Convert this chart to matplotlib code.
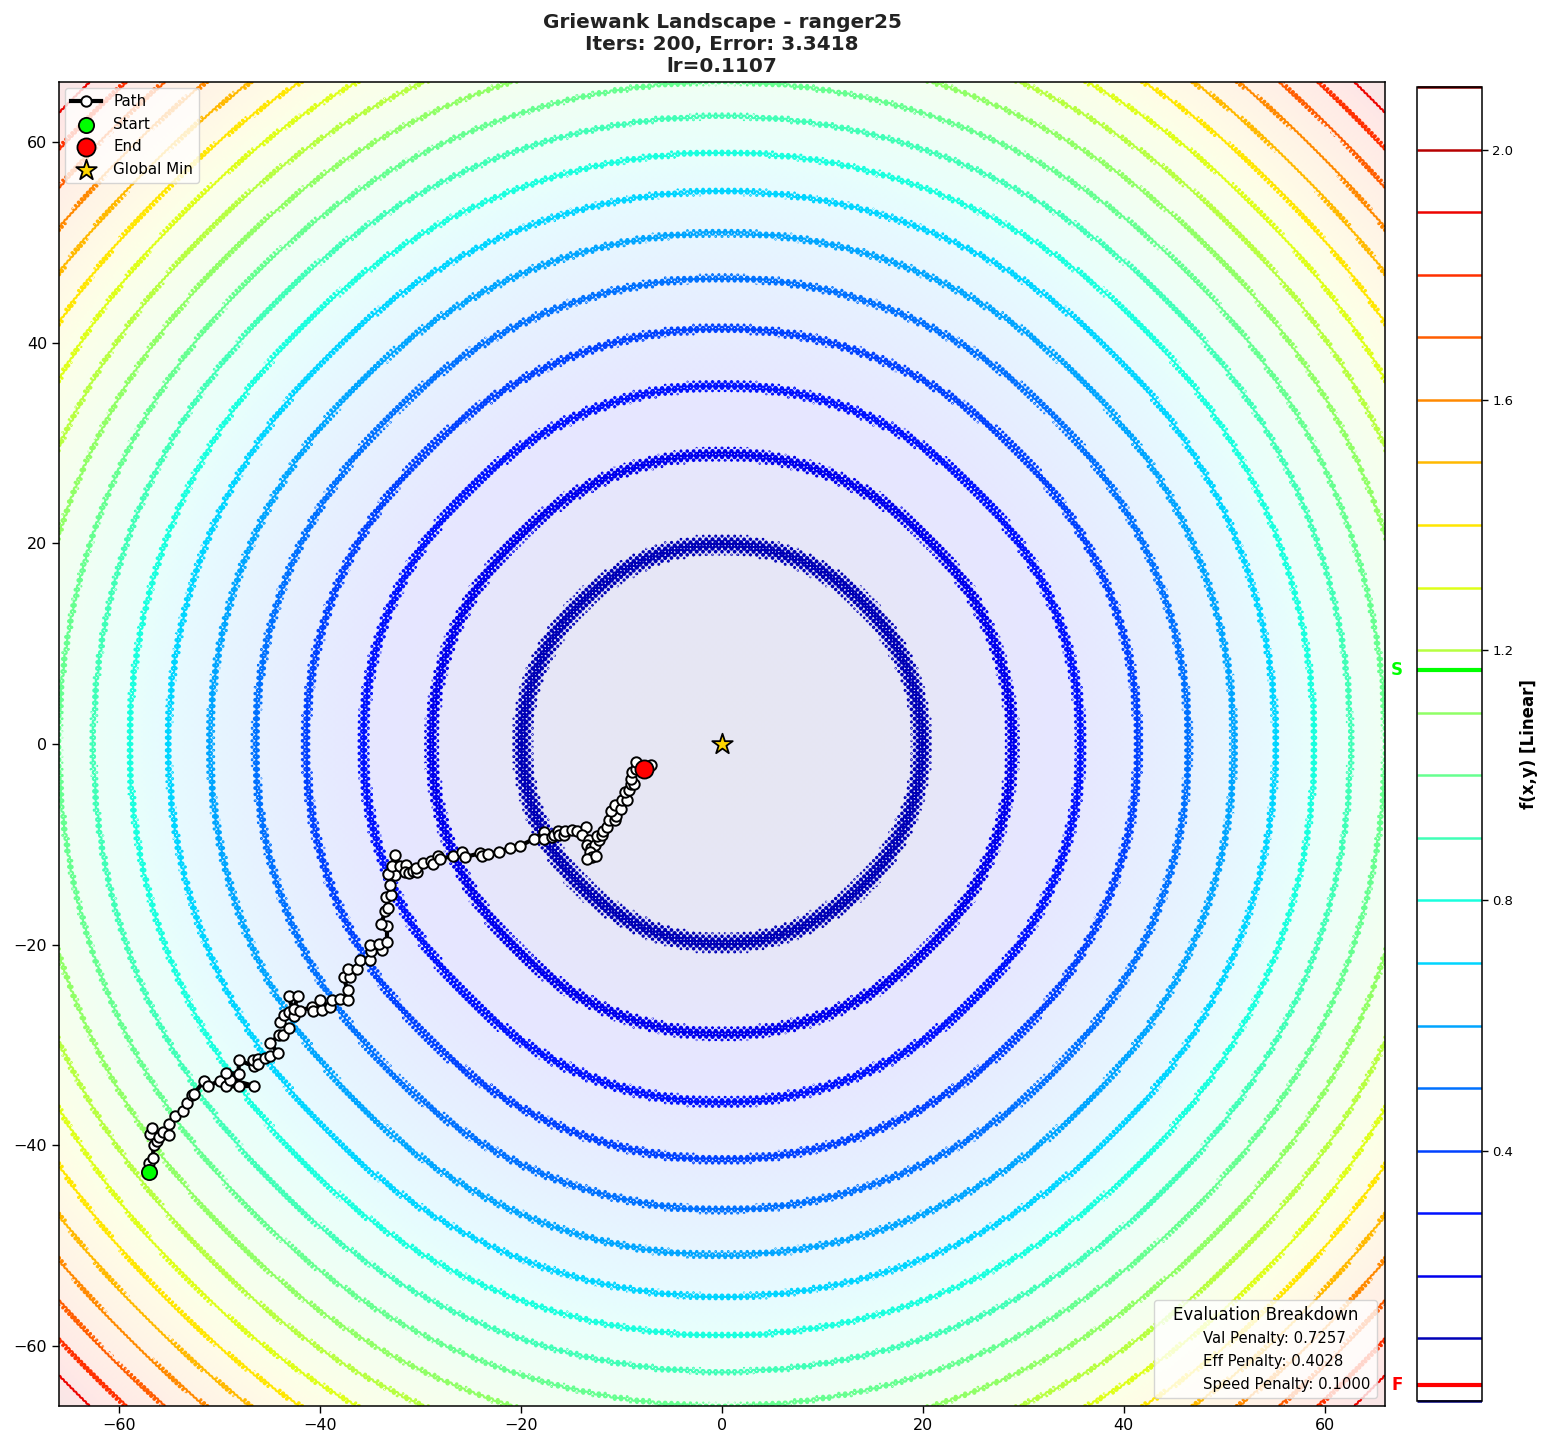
import matplotlib
matplotlib.use('Agg')
import matplotlib.pyplot as plt
import numpy as np
from matplotlib.lines import Line2D

# Path (x, y in data units), in iteration order
path_x = [-57.0, -57.08, -56.65, -56.58, -56.25, -56.92, -56.78, -56.09, -55.69, -55.09, -55.09, -54.49,
          -53.69, -53.26, -52.76, -52.60, -51.53, -51.20, -50.01, -49.38, -48.11, -46.62, -48.94, -49.34,
          -48.11, -48.11, -46.62, -46.68, -46.22, -46.22, -45.46, -44.96, -44.19, -44.96, -44.13, -43.69,
          -43.13, -44.03, -43.56, -43.13, -42.56, -43.13, -42.20, -42.63, -41.97, -40.82, -40.72, -39.79,
          -40.06, -39.06, -38.83, -38.06, -37.27, -37.27, -37.66, -37.07, -37.27, -36.34, -36.07, -35.07,
          -34.94, -35.07, -33.84, -34.18, -33.35, -33.35, -33.94, -33.51, -33.25, -33.41, -32.95, -33.08,
          -32.52, -33.25, -32.85, -32.58, -32.02, -31.42, -31.58, -31.19, -30.75, -30.36, -30.42, -29.79,
          -28.96, -28.76, -28.26, -28.03, -26.81, -25.88, -25.61, -24.05, -23.88, -23.32, -22.22, -21.13,
          -20.06, -18.74, -17.67, -17.74, -16.91, -16.74, -16.31, -16.24, -15.74, -15.58, -14.91, -14.42,
          -13.52, -13.92, -13.25, -13.48, -13.09, -12.69, -13.15, -12.92, -13.48, -12.59, -12.26, -12.42,
          -11.92, -11.82, -11.43, -11.26, -10.66, -10.59, -11.09, -10.70, -10.10, -9.93, -9.43, -9.70,
          -9.27, -9.10, -8.77, -9.03, -8.93, -8.60, -8.57, -7.10, -7.77]
path_y = [-42.68, -41.79, -41.25, -39.93, -39.59, -38.93, -38.33, -39.19, -38.70, -39.03, -37.87, -37.13,
          -36.54, -35.77, -35.04, -34.94, -33.55, -34.14, -33.55, -34.14, -34.14, -34.08, -33.45, -32.78,
          -32.88, -31.49, -32.15, -31.55, -31.39, -31.89, -31.29, -31.15, -30.82, -29.83, -29.06, -29.06,
          -28.33, -27.67, -26.97, -26.67, -27.07, -25.17, -25.17, -26.40, -26.57, -26.23, -26.66, -26.49,
          -25.50, -26.23, -25.56, -25.40, -25.56, -24.57, -23.24, -23.24, -22.47, -22.41, -21.58, -21.51,
          -20.68, -20.08, -20.58, -19.98, -19.78, -18.15, -17.92, -16.69, -16.33, -15.26, -15.10, -14.10,
          -13.10, -12.94, -12.21, -11.11, -12.21, -12.11, -12.77, -12.87, -12.67, -12.77, -12.34, -11.88,
          -11.68, -11.94, -11.21, -11.44, -11.18, -10.78, -11.28, -10.88, -11.18, -10.95, -10.78, -10.35,
          -10.15, -9.45, -8.79, -9.45, -9.28, -9.12, -8.69, -9.12, -9.12, -8.69, -8.55, -8.69,
          -8.29, -9.12, -9.55, -10.02, -10.35, -10.02, -10.78, -11.28, -11.44, -11.18, -9.62, -9.22,
          -9.12, -8.69, -8.29, -7.56, -7.62, -7.13, -6.69, -6.06, -6.46, -5.63, -5.56, -4.80,
          -4.63, -3.97, -3.97, -3.47, -2.81, -2.47, -1.81, -2.14, -2.47]

x_limit = 66.0
level_values = [i / 10 for i in range(22)]
cbar_ticks = [0.4, 0.8, 1.2, 1.6, 2.0]
start_value = 1.168
end_value = 0.025
penalties = ['Val Penalty: 0.7257', 'Eff Penalty: 0.4028', 'Speed Penalty: 0.1000']

# Griewank-style surface, fine ripple gives the dotted contour bands
def griewank(x, y):
    return (x ** 2 + y ** 2) / 4400 + 0.01 * (1 - np.cos(10 * x) * np.cos(10 * y))

W, H = 1552, 1448
fig = plt.figure(figsize=(W / 100, H / 100), dpi=100)
ax = fig.add_axes([59 / W, 1 - 1406 / H, (1385 - 59) / W, (1406 - 82) / H])
cax = fig.add_axes([1417 / W, 1 - 1401 / H, (1482 - 1417) / W, (1401 - 87) / H])

grid = np.linspace(-x_limit, x_limit, 1600)
X, Y = np.meshgrid(grid, grid)
Z = griewank(X, Y)

ax.imshow(Z, extent=[-x_limit, x_limit, -x_limit, x_limit], origin='lower', cmap='jet',
          vmin=0, vmax=2.1, alpha=0.1, aspect='auto')
lines = ax.contour(X, Y, Z, levels=level_values, cmap='jet', vmin=0, vmax=2.1, linewidths=1.5)

ax.plot(path_x, path_y, '-o', color='black', lw=3, ms=7.5, mfc='white', mec='black', mew=1.4, label='Path', zorder=5)
ax.scatter(path_x[0], path_y[0], s=120, c='lime', edgecolors='black', linewidths=1.3, label='Start', zorder=6)
ax.scatter(path_x[-1], path_y[-1], s=170, c='red', edgecolors='black', linewidths=1.3, label='End', zorder=6)
ax.scatter(0, 0, s=240, c='gold', marker='*', edgecolors='black', linewidths=1.3, label='Global Min', zorder=6)

ax.set_xlim(-x_limit, x_limit)
ax.set_ylim(-x_limit, x_limit)
ax.tick_params(labelsize=11.5, length=5, width=1)
for s in ax.spines.values():
    s.set_linewidth(1.1)
ax.set_title('Griewank Landscape - ranger25\nIters: 200, Error: 3.3418\nlr=0.1107',
             fontsize=14.4, fontweight='bold', color='#222222', pad=7)

first = ax.legend(loc='upper left', fontsize=10.9, framealpha=0.8, borderaxespad=0.4)
ax.add_artist(first)
blank = [Line2D([], [], alpha=0) for _ in penalties]
ax.legend(blank, penalties, title='Evaluation Breakdown', title_fontsize=12, fontsize=10.75, loc='lower right',
          framealpha=0.8, borderaxespad=0.55, handlelength=2.1, labelspacing=0.52)

cbar = fig.colorbar(lines, cax=cax)
cbar.set_ticks(cbar_ticks)
cbar.ax.tick_params(labelsize=9.5, length=4, width=1)
cbar.outline.set_linewidth(1.1)
cbar.lines[0].set_linewidth(1.8)
cbar.set_label('f(x,y) [Linear]', fontsize=12, fontweight='bold', labelpad=5)
cax.axhline(start_value, color='lime', lw=3)
cax.axhline(end_value, color='red', lw=3)
cax.text(-0.31, start_value, 'S', color='lime', fontsize=12, fontweight='bold', ha='center', va='center',
         transform=cax.get_yaxis_transform())
cax.text(-0.31, end_value, 'F', color='red', fontsize=12, fontweight='bold', ha='center', va='center',
         transform=cax.get_yaxis_transform())

fig.savefig('out.png', dpi=100)
